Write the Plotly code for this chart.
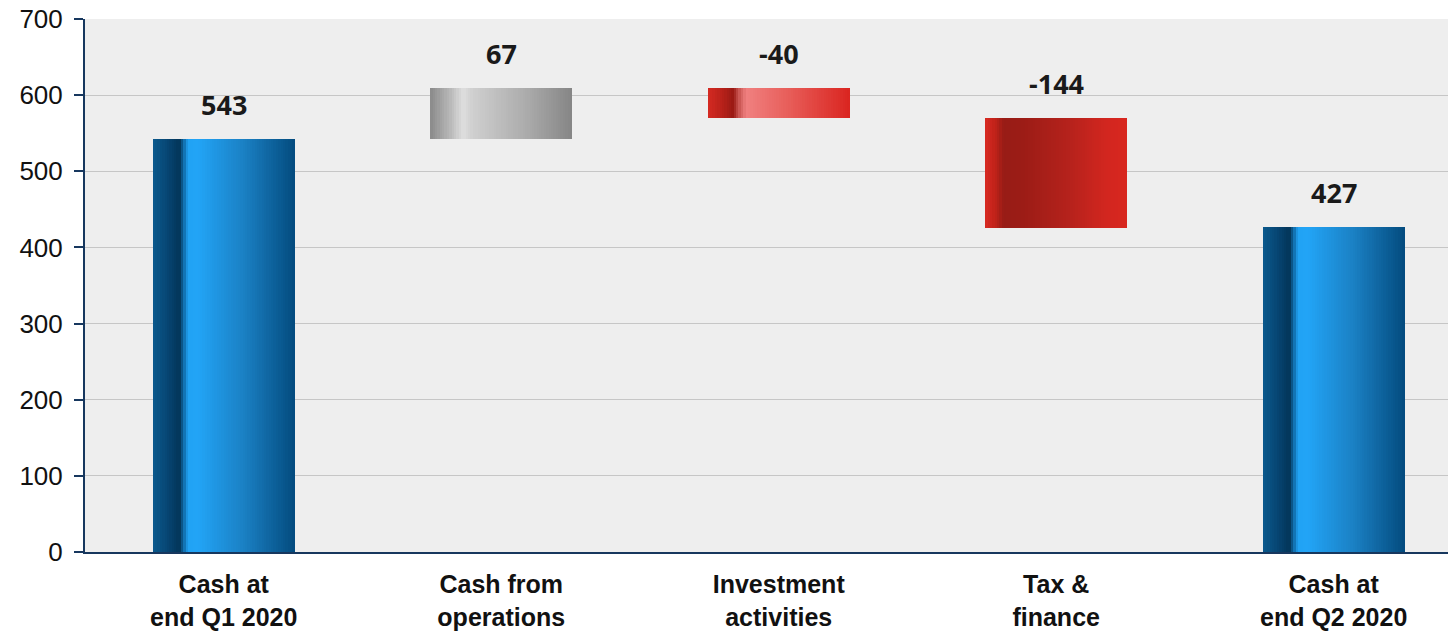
import plotly.graph_objects as go

# ---- data ----
categories = ["Cash at<br>end Q1 2020", "Cash from<br>operations", "Investment<br>activities",
              "Tax &<br>finance", "Cash at<br>end Q2 2020"]
start_value = 543
changes = [67, -40, -144]
end_value = 427
value_labels = ["543", "67", "-40", "-144", "427"]
bar_styles = ["blue", "gray", "red_light", "red_dark", "blue"]

# ---- waterfall geometry from data ----
bases = [0]
heights = [start_value]
running = start_value
for d in changes:
    new = running + d
    bases.append(min(running, new))
    heights.append(abs(d))
    running = new
bases.append(0)
heights.append(end_value)
tops = [b + h for b, h in zip(bases, heights)]

# ---- gradient styles (fraction across bar -> colour) ----
GRADIENTS = {
    "blue": [(0.0, "#0a5a8e"), (0.12, "#06426e"), (0.19, "#033558"), (0.22, "#0f6aa8"),
             (0.25, "#21a3f4"), (0.32, "#22a4f6"), (0.65, "#1a7fc2"), (1.0, "#034b7e")],
    "gray": [(0.0, "#8a8a8a"), (0.14, "#b8b8b8"), (0.23, "#dedede"), (0.3, "#cfcfcf"),
             (0.7, "#a9a9a9"), (1.0, "#858585")],
    "red_light": [(0.0, "#d62a22"), (0.1, "#b8211a"), (0.18, "#9a1a14"), (0.22, "#c85450"),
                  (0.27, "#f08080"), (0.55, "#e8605c"), (1.0, "#da2520")],
    "red_dark": [(0.0, "#d82a22"), (0.07, "#c02219"), (0.13, "#981c16"), (0.27, "#9c1c16"),
                 (0.6, "#b6221c"), (0.85, "#d2261f"), (1.0, "#d8271f")],
}


def hex2rgb(h):
    h = h.lstrip("#")
    return tuple(int(h[i:i + 2], 16) for i in (0, 2, 4))


def interp(stops, t):
    for (t0, c0), (t1, c1) in zip(stops[:-1], stops[1:]):
        if t0 <= t <= t1:
            f = 0 if t1 == t0 else (t - t0) / (t1 - t0)
            a, b = hex2rgb(c0), hex2rgb(c1)
            r = [round(a[k] + (b[k] - a[k]) * f) for k in range(3)]
            return "rgb(%d,%d,%d)" % tuple(r)
    return stops[-1][1]


BAR_W = 0.512
N = 60
fig = go.Figure()
for i in range(N):
    t = (i + 0.5) / N
    off = -BAR_W / 2 + i * BAR_W / N
    w = BAR_W / N * (1.6 if i < N - 1 else 1.0)
    fig.add_trace(go.Bar(
        x=categories, y=heights, base=bases,
        width=[w] * len(categories), offset=[off] * len(categories),
        marker=dict(color=[interp(GRADIENTS[s], t) for s in bar_styles], line=dict(width=0)),
        hoverinfo="skip", showlegend=False,
    ))

for cat, top, lab in zip(categories, tops, value_labels):
    fig.add_annotation(x=cat, y=top, text="<b>%s</b>" % lab, showarrow=False,
                       yshift=34, yanchor="middle",
                       font=dict(family="Open Sans", size=27, color="#1a1a1a"))

AX = "#17375e"
fig.update_layout(
    width=1448, height=631,
    margin=dict(l=85, r=0, t=19, b=79, autoexpand=False),
    paper_bgcolor="white", plot_bgcolor="#eeeeee",
    barmode="overlay", bargap=0,
    xaxis=dict(type="category", range=[-0.5, 4.412], showline=True, linecolor=AX, linewidth=2,
               ticks="", showgrid=False, ticklabelstandoff=9, automargin=False,
               tickfont=dict(family="Liberation Sans, Arial", size=25, color="#111111", weight="bold")),
    yaxis=dict(range=[0, 700], dtick=100, showline=True, linecolor=AX, linewidth=2,
               ticks="outside", ticklen=9, tickcolor=AX, tickwidth=2, ticklabelstandoff=6,
               gridcolor="#c6c6c6", gridwidth=1, zeroline=False, automargin=False,
               tickfont=dict(family="Liberation Sans, Arial", size=26, color="#111111")),
)

fig.write_html("out.html", config={"displayModeBar": False},
               post_script="document.body.style.margin='0';")
